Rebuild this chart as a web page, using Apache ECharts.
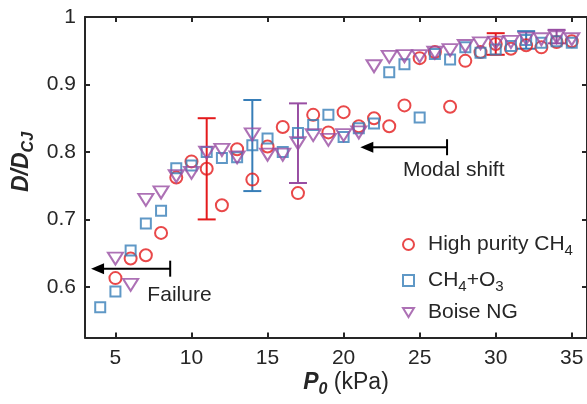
<!DOCTYPE html>
<html><head><meta charset="utf-8">
<script src="https://cdn.jsdelivr.net/npm/echarts@6/dist/echarts.min.js"></script>
<style>html,body{margin:0;padding:0;background:#fff}#c{width:587px;height:404px}</style>
</head><body><div id="c"></div>
<script>
// ---- data ----
const redX = [5,6,7,8,9,10,11,12,13,14,15,16,17,18,19,20,21,22,23,24,25,26,27,28,29,30,31,32,33,34,35];
const redY = [0.613,0.642,0.647,0.680,0.762,0.786,0.775,0.721,0.804,0.759,0.808,0.837,0.739,0.855,0.829,0.859,0.838,0.850,0.838,0.869,0.939,0.948,0.867,0.935,0.948,0.960,0.953,0.958,0.955,0.963,0.964];
const blueX = [4,5,6,7,8,9,10,11,12,13,14,15,16,17,18,19,20,21,22,23,24,25,26,27,28,29,30,31,32,33,34,35];
const blueY = [0.570,0.593,0.654,0.694,0.713,0.776,0.780,0.800,0.791,0.792,0.810,0.820,0.800,0.828,0.840,0.855,0.822,0.835,0.842,0.918,0.930,0.851,0.945,0.937,0.955,0.947,0.952,0.957,0.966,0.962,0.964,0.962];
const purpX = [5,6,7,8,9,10,11,12,13,14,15,16,17,18,19,20,21,22,23,24,25,26,27,28,29,30,31,32,33,34,35];
const purpY = [0.642,0.603,0.729,0.740,0.764,0.769,0.799,0.803,0.792,0.826,0.796,0.796,0.813,0.825,0.818,0.825,0.829,0.927,0.941,0.942,0.942,0.947,0.951,0.957,0.961,0.962,0.963,0.968,0.967,0.970,0.967];
// error bars: x, low, high
const redErrX = [11, 30];   const redErrLo = [0.700, 0.944]; const redErrHi = [0.850, 0.976];
const blueErrX = [14, 32];  const blueErrLo = [0.742, 0.953]; const blueErrHi = [0.877, 0.979];
const purpErrX = [17, 34];  const purpErrLo = [0.754, 0.961]; const purpErrHi = [0.872, 0.981];
// annotations: arrow head x, bar x, y ; text x, y
const annoHeadX = [3.4, 21.1];
const annoBarX = [8.6, 26.8];
const annoY = [0.627, 0.807];
const annoText = ['Failure', 'Modal shift'];
const annoTextX = [7.1, 23.9];
const annoTextY = [0.588, 0.773];
const xTicks = [5,10,15,20,25,30,35];
const yTicks = [0.6,0.7,0.8,0.9,1];
const seriesNames = ['High purity CH4', 'CH4+O3', 'Boise NG'];

const RED = '#e41a1c', BLUE = '#377eb8', PURP = '#984ea3', AX = '#262626';
const FONT = 'Liberation Sans, Arial, sans-serif';
const FS = 21;
const triDown = 'path://M0,0 L12,0 L6,10 Z';

function zip(a, b) { return a.map((v, i) => [v, b[i]]); }
function zip3(a, b, c) { return a.map((v, i) => [v, b[i], c[i]]); }

function errRender(color) {
  return function (params, api) {
    const x = api.value(0);
    const p1 = api.coord([x, api.value(1)]);
    const p2 = api.coord([x, api.value(2)]);
    const w = 9;
    const st = { stroke: color, lineWidth: 2 };
    return { type: 'group', children: [
      { type: 'line', shape: { x1: p1[0], y1: p1[1], x2: p2[0], y2: p2[1] }, style: st },
      { type: 'line', shape: { x1: p1[0]-w, y1: p1[1], x2: p1[0]+w, y2: p1[1] }, style: st },
      { type: 'line', shape: { x1: p2[0]-w, y1: p2[1], x2: p2[0]+w, y2: p2[1] }, style: st }
    ]};
  };
}

function annoRender(params, api) {
  const i = params.dataIndex;
  const h = api.coord([api.value(0), api.value(2)]);
  const b = api.coord([api.value(1), api.value(2)]);
  const t = api.coord([api.value(3), api.value(4)]);
  const st = { stroke: '#000', lineWidth: 2 };
  return { type: 'group', children: [
    { type: 'line', shape: { x1: h[0]+8, y1: h[1], x2: b[0], y2: b[1] }, style: st },
    { type: 'polygon', shape: { points: [[h[0], h[1]], [h[0]+13, h[1]-5.5], [h[0]+13, h[1]+5.5]] }, style: { fill: '#000' } },
    { type: 'line', shape: { x1: b[0], y1: b[1]-8, x2: b[0], y2: b[1]+8 }, style: st },
    { type: 'text', x: t[0], y: t[1], style: { text: annoText[i], fill: AX, font: FS + 'px ' + FONT, textAlign: 'left', textVerticalAlign: 'middle' } }
  ]};
}

const markerStyle = c => ({ color: 'rgba(255,255,255,0)', borderColor: c, borderWidth: 2 });

const chart = echarts.init(document.getElementById('c'), null, { renderer: 'canvas' });
const axisCommon = {
  axisLine: { show: true, onZero: false, lineStyle: { color: AX, width: 2 } },
  splitLine: { show: false }
};
const legendCommon = {
  orient: 'vertical', left: 397, itemGap: 12, itemWidth: 11, itemHeight: 11,
  formatter: n => n === 'High purity CH4' ? 'High purity CH{sub|4}' : (n === 'CH4+O3' ? 'CH{sub|4}+O{sub|3}' : n),
  textStyle: { color: AX, fontSize: FS, fontFamily: FONT, padding: [0, 0, 0, 9],
    rich: { sub: { fontSize: 15, fontFamily: FONT, color: AX, verticalAlign: 'bottom', padding: [12, 0, 0, 0] } } }
};
chart.setOption({
  animation: false,
  backgroundColor: '#fff',
  grid: { left: 85, top: 17, width: 505, height: 320.5, containLabel: false },
  xAxis: [
    Object.assign({ type: 'value', min: 3, max: 36, position: 'bottom',
      axisTick: { show: true, inside: true, length: 5, customValues: xTicks, lineStyle: { color: AX, width: 2 } },
      axisLabel: { customValues: xTicks, color: AX, fontSize: FS, fontFamily: FONT, margin: 10 } }, axisCommon),
    Object.assign({ type: 'value', min: 3, max: 36, position: 'top',
      axisTick: { show: true, inside: true, length: 5, customValues: xTicks, lineStyle: { color: AX, width: 2 } },
      axisLabel: { show: false } }, axisCommon)
  ],
  yAxis: [
    Object.assign({ type: 'value', min: 0.525, max: 1, position: 'left',
      axisTick: { show: true, inside: true, length: 5, customValues: yTicks, lineStyle: { color: AX, width: 2 } },
      axisLabel: { customValues: yTicks, color: AX, fontSize: FS, fontFamily: FONT, margin: 9,
        formatter: v => (Math.abs(v - 1) < 1e-9 ? '1' : v.toFixed(1)) } }, axisCommon),
    Object.assign({ type: 'value', min: 0.525, max: 1, position: 'right',
      axisTick: { show: true, inside: true, length: 5, customValues: yTicks, lineStyle: { color: AX, width: 2 } },
      axisLabel: { show: false } }, axisCommon)
  ],
  legend: [
    Object.assign({ top: 229, data: seriesNames.slice(0, 2) }, legendCommon),
    Object.assign({ top: 297, data: seriesNames.slice(2) }, legendCommon)
  ],
  graphic: [
    { type: 'text', x: 22, y: 162, rotation: Math.PI / 2,
      style: { text: 'D/D{sub|CJ}', fill: AX, font: 'italic bold 23px ' + FONT, align: 'center', verticalAlign: 'middle',
        rich: { sub: { font: 'italic bold 16px ' + FONT, fill: AX, padding: [13, 0, 0, 0] } } } },
    { type: 'text', x: 346, y: 383,
      style: { text: '{b|P}{s|0} (kPa)', fill: AX, font: '23px ' + FONT, align: 'center', verticalAlign: 'middle',
        rich: { b: { font: 'italic bold 23px ' + FONT, fill: AX }, s: { font: 'italic bold 16px ' + FONT, fill: AX, padding: [13, 0, 0, 0] } } } }
  ],
  series: [
    { name: 'High purity CH4', type: 'scatter', data: zip(redX, redY), symbol: 'circle', symbolSize: 12, itemStyle: markerStyle(RED), z: 3 },
    { name: 'CH4+O3', type: 'scatter', data: zip(blueX, blueY), symbol: 'rect', symbolSize: 10, itemStyle: markerStyle(BLUE), z: 3 },
    { name: 'Boise NG', type: 'scatter', data: zip(purpX, purpY), symbol: triDown, symbolSize: [15, 12], itemStyle: markerStyle(PURP), z: 3 },
    { type: 'custom', data: zip3(redErrX, redErrLo, redErrHi), renderItem: errRender(RED), z: 2 },
    { type: 'custom', data: zip3(blueErrX, blueErrLo, blueErrHi), renderItem: errRender(BLUE), z: 2 },
    { type: 'custom', data: zip3(purpErrX, purpErrLo, purpErrHi), renderItem: errRender(PURP), z: 2 },
    { type: 'custom', data: annoHeadX.map((v, i) => [v, annoBarX[i], annoY[i], annoTextX[i], annoTextY[i]]), renderItem: annoRender, z: 4 }
  ]
});
</script></body></html>
